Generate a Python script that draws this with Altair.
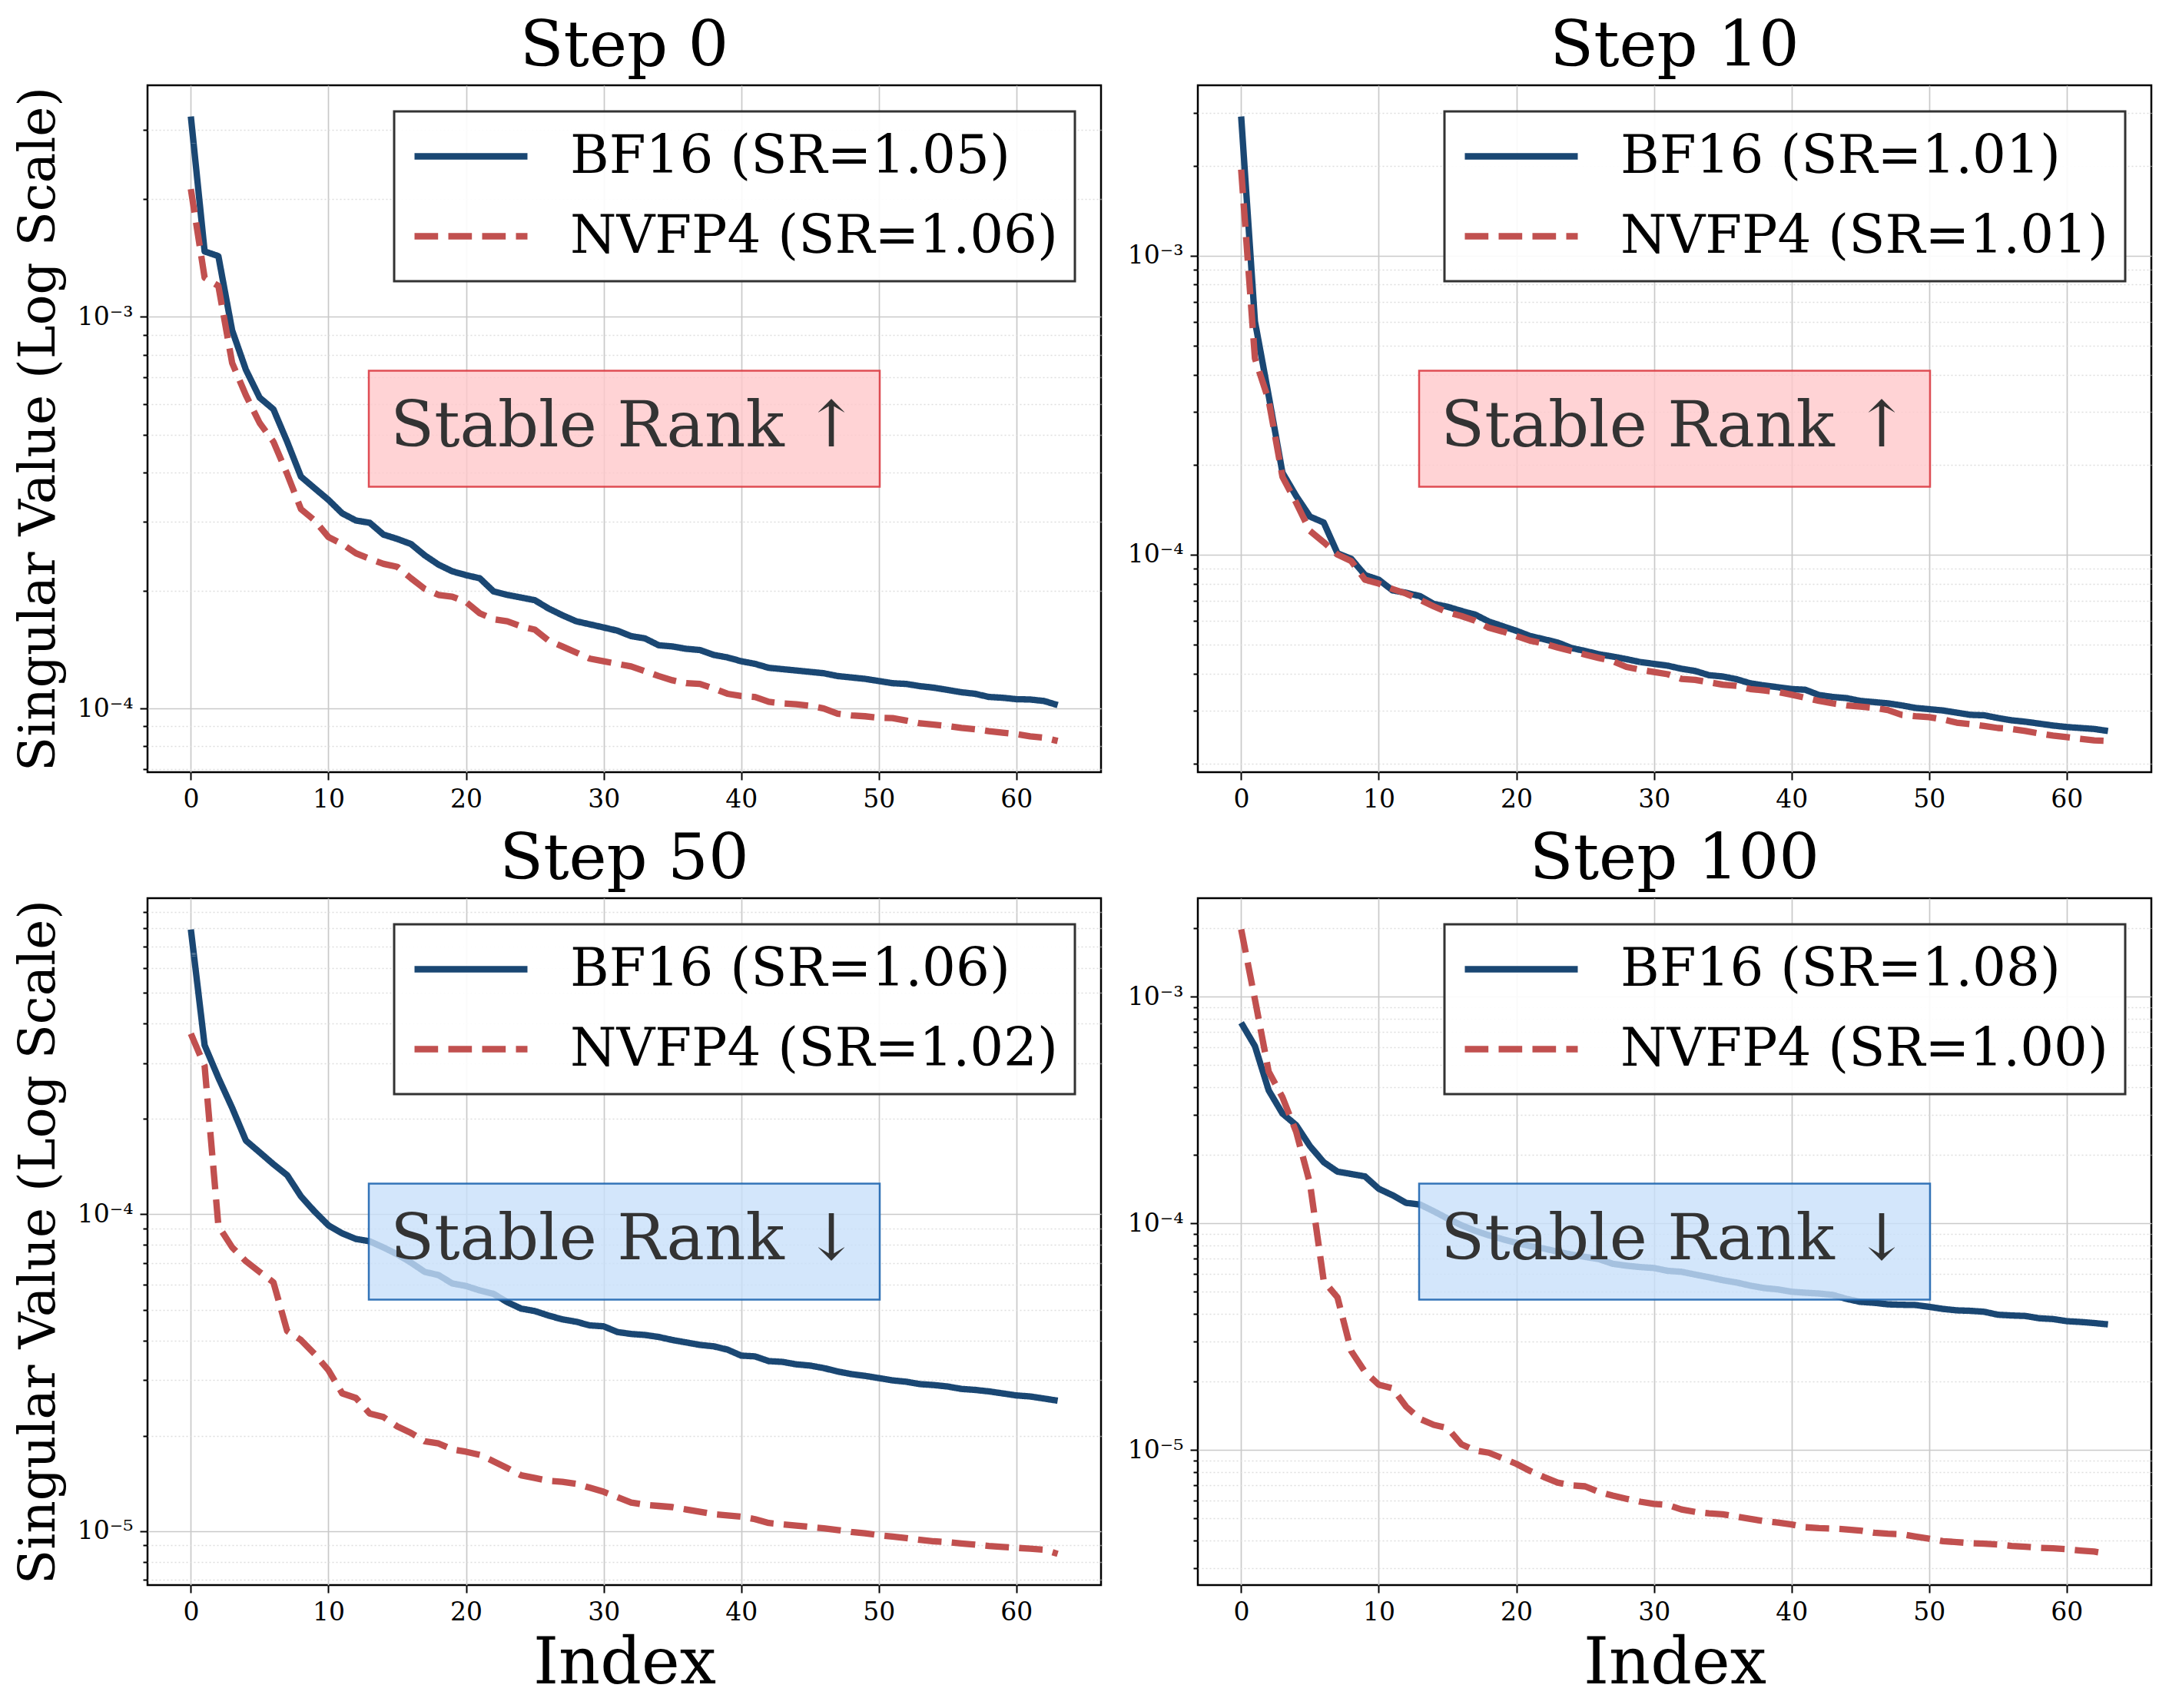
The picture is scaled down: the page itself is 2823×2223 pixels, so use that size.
import altair as alt
import pandas as pd
import numpy as np

STEPS = ["Step 0", "Step 10", "Step 50", "Step 100"]
BF16_SR = ["1.05", "1.01", "1.06", "1.08"]
NVFP4_SR = ["1.06", "1.01", "1.02", "1.00"]
ANNOT = ["Stable Rank \u2191", "Stable Rank \u2191", "Stable Rank \u2193", "Stable Rank \u2193"]
ANNOT_KIND = ["up", "up", "down", "down"]

S0_BF16 = [
    3.25e-3, 1.47e-3, 1.43e-3, 9.24e-4, 7.33e-4, 6.22e-4, 5.81e-4, 4.80e-4,
    3.91e-4, 3.65e-4, 3.41e-4, 3.15e-4, 3.02e-4, 2.98e-4, 2.78e-4, 2.71e-4,
    2.63e-4, 2.46e-4, 2.33e-4, 2.24e-4, 2.19e-4, 2.15e-4, 1.99e-4, 1.95e-4,
    1.92e-4, 1.89e-4, 1.80e-4, 1.73e-4, 1.67e-4, 1.64e-4, 1.61e-4, 1.58e-4,
    1.53e-4, 1.51e-4, 1.45e-4, 1.44e-4, 1.42e-4, 1.41e-4, 1.37e-4, 1.35e-4,
    1.32e-4, 1.30e-4, 1.27e-4, 1.26e-4, 1.25e-4, 1.24e-4, 1.23e-4, 1.21e-4,
    1.20e-4, 1.19e-4, 1.175e-4, 1.16e-4, 1.155e-4, 1.14e-4, 1.13e-4, 1.115e-4,
    1.10e-4, 1.09e-4, 1.07e-4, 1.065e-4, 1.056e-4, 1.054e-4, 1.045e-4, 1.02e-4,
]
S0_NVFP4 = [
    2.12e-3, 1.26e-3, 1.20e-3, 7.63e-4, 6.31e-4, 5.36e-4, 4.80e-4, 3.97e-4,
    3.23e-4, 3.02e-4, 2.74e-4, 2.63e-4, 2.49e-4, 2.41e-4, 2.34e-4, 2.30e-4,
    2.15e-4, 2.02e-4, 1.95e-4, 1.93e-4, 1.87e-4, 1.75e-4, 1.69e-4, 1.67e-4,
    1.62e-4, 1.59e-4, 1.49e-4, 1.44e-4, 1.39e-4, 1.34e-4, 1.32e-4, 1.30e-4,
    1.28e-4, 1.245e-4, 1.21e-4, 1.18e-4, 1.16e-4, 1.155e-4, 1.125e-4, 1.09e-4,
    1.076e-4, 1.07e-4, 1.04e-4, 1.03e-4, 1.025e-4, 1.016e-4, 1.0e-4, 9.7e-5,
    9.6e-5, 9.55e-5, 9.47e-5, 9.45e-5, 9.31e-5, 9.16e-5, 9.09e-5, 9.02e-5,
    8.92e-5, 8.85e-5, 8.75e-5, 8.67e-5, 8.6e-5, 8.49e-5, 8.42e-5, 8.26e-5,
]
S10_BF16 = [
    2.92e-3, 6.03e-4, 3.40e-4, 1.88e-4, 1.57e-4, 1.34e-4, 1.28e-4, 1.01e-4,
    9.68e-5, 8.54e-5, 8.24e-5, 7.59e-5, 7.45e-5, 7.26e-5, 6.84e-5, 6.69e-5,
    6.48e-5, 6.30e-5, 5.97e-5, 5.76e-5, 5.56e-5, 5.34e-5, 5.21e-5, 5.08e-5,
    4.87e-5, 4.76e-5, 4.64e-5, 4.56e-5, 4.47e-5, 4.37e-5, 4.31e-5, 4.25e-5,
    4.15e-5, 4.08e-5, 3.95e-5, 3.91e-5, 3.83e-5, 3.71e-5, 3.65e-5, 3.60e-5,
    3.55e-5, 3.53e-5, 3.39e-5, 3.34e-5, 3.31e-5, 3.24e-5, 3.21e-5, 3.18e-5,
    3.13e-5, 3.07e-5, 3.04e-5, 3.01e-5, 2.96e-5, 2.91e-5, 2.90e-5, 2.84e-5,
    2.79e-5, 2.76e-5, 2.72e-5, 2.68e-5, 2.65e-5, 2.63e-5, 2.61e-5, 2.57e-5,
]
S10_NVFP4 = [
    1.94e-3, 4.53e-4, 3.28e-4, 1.82e-4, 1.49e-4, 1.20e-4, 1.10e-4, 1.00e-4,
    9.51e-5, 8.24e-5, 8.0e-5, 7.67e-5, 7.40e-5, 7.06e-5, 6.71e-5, 6.41e-5,
    6.23e-5, 6.01e-5, 5.69e-5, 5.53e-5, 5.34e-5, 5.15e-5, 5.04e-5, 4.89e-5,
    4.76e-5, 4.63e-5, 4.51e-5, 4.40e-5, 4.21e-5, 4.12e-5, 4.05e-5, 3.98e-5,
    3.84e-5, 3.81e-5, 3.74e-5, 3.67e-5, 3.64e-5, 3.55e-5, 3.51e-5, 3.47e-5,
    3.40e-5, 3.32e-5, 3.24e-5, 3.18e-5, 3.13e-5, 3.10e-5, 3.07e-5, 3.02e-5,
    2.91e-5, 2.88e-5, 2.86e-5, 2.81e-5, 2.74e-5, 2.71e-5, 2.67e-5, 2.63e-5,
    2.61e-5, 2.57e-5, 2.52e-5, 2.48e-5, 2.45e-5, 2.42e-5, 2.39e-5, 2.38e-5,
]
S50_BF16 = [
    7.94e-4, 3.42e-4, 2.70e-4, 2.17e-4, 1.71e-4, 1.57e-4, 1.44e-4, 1.33e-4,
    1.14e-4, 1.02e-4, 9.23e-5, 8.71e-5, 8.36e-5, 8.22e-5, 7.86e-5, 7.48e-5,
    7.04e-5, 6.58e-5, 6.43e-5, 6.05e-5, 5.94e-5, 5.75e-5, 5.61e-5, 5.28e-5,
    5.04e-5, 4.95e-5, 4.79e-5, 4.66e-5, 4.58e-5, 4.46e-5, 4.43e-5, 4.25e-5,
    4.19e-5, 4.16e-5, 4.10e-5, 4.01e-5, 3.94e-5, 3.87e-5, 3.83e-5, 3.74e-5,
    3.58e-5, 3.56e-5, 3.44e-5, 3.42e-5, 3.36e-5, 3.33e-5, 3.27e-5, 3.19e-5,
    3.13e-5, 3.09e-5, 3.04e-5, 2.99e-5, 2.96e-5, 2.91e-5, 2.89e-5, 2.86e-5,
    2.81e-5, 2.79e-5, 2.76e-5, 2.72e-5, 2.68e-5, 2.66e-5, 2.62e-5, 2.58e-5,
]
S50_NVFP4 = [
    3.72e-4, 2.94e-4, 9.2e-5, 7.87e-5, 7.11e-5, 6.58e-5, 6.10e-5, 4.28e-5,
    4.01e-5, 3.62e-5, 3.22e-5, 2.72e-5, 2.63e-5, 2.35e-5, 2.29e-5, 2.14e-5,
    2.04e-5, 1.92e-5, 1.89e-5, 1.81e-5, 1.78e-5, 1.74e-5, 1.66e-5, 1.58e-5,
    1.50e-5, 1.47e-5, 1.44e-5, 1.43e-5, 1.41e-5, 1.37e-5, 1.33e-5, 1.28e-5,
    1.23e-5, 1.21e-5, 1.20e-5, 1.19e-5, 1.17e-5, 1.15e-5, 1.13e-5, 1.12e-5,
    1.11e-5, 1.09e-5, 1.06e-5, 1.05e-5, 1.04e-5, 1.03e-5, 1.02e-5, 1.007e-5,
    9.93e-6, 9.84e-6, 9.70e-6, 9.60e-6, 9.50e-6, 9.38e-6, 9.28e-6, 9.22e-6,
    9.13e-6, 9.06e-6, 8.97e-6, 8.91e-6, 8.85e-6, 8.79e-6, 8.73e-6, 8.47e-6,
]
S100_BF16 = [
    7.67e-4, 6.05e-4, 3.86e-4, 3.05e-4, 2.71e-4, 2.19e-4, 1.86e-4, 1.69e-4,
    1.65e-4, 1.61e-4, 1.42e-4, 1.33e-4, 1.23e-4, 1.21e-4, 1.13e-4, 1.05e-4,
    9.81e-5, 9.27e-5, 8.85e-5, 8.51e-5, 8.20e-5, 7.93e-5, 7.74e-5, 7.49e-5,
    7.28e-5, 7.11e-5, 6.95e-5, 6.63e-5, 6.50e-5, 6.41e-5, 6.35e-5, 6.17e-5,
    6.11e-5, 5.94e-5, 5.78e-5, 5.61e-5, 5.48e-5, 5.31e-5, 5.18e-5, 5.11e-5,
    4.99e-5, 4.94e-5, 4.90e-5, 4.83e-5, 4.64e-5, 4.50e-5, 4.46e-5, 4.39e-5,
    4.37e-5, 4.36e-5, 4.28e-5, 4.19e-5, 4.13e-5, 4.11e-5, 4.07e-5, 3.95e-5,
    3.92e-5, 3.90e-5, 3.81e-5, 3.78e-5, 3.70e-5, 3.67e-5, 3.63e-5, 3.58e-5,
]
S100_NVFP4 = [
    1.98e-3, 9.72e-4, 4.67e-4, 3.60e-4, 2.53e-4, 1.50e-4, 5.56e-5, 4.71e-5,
    2.73e-5, 2.21e-5, 1.94e-5, 1.87e-5, 1.55e-5, 1.37e-5, 1.29e-5, 1.25e-5,
    1.06e-5, 9.95e-6, 9.72e-6, 9.19e-6, 8.68e-6, 8.08e-6, 7.60e-6, 7.18e-6,
    6.98e-6, 6.91e-6, 6.53e-6, 6.29e-6, 6.09e-6, 5.91e-6, 5.78e-6, 5.72e-6,
    5.46e-6, 5.33e-6, 5.25e-6, 5.20e-6, 5.08e-6, 4.96e-6, 4.85e-6, 4.78e-6,
    4.69e-6, 4.56e-6, 4.52e-6, 4.50e-6, 4.46e-6, 4.41e-6, 4.31e-6, 4.27e-6,
    4.25e-6, 4.15e-6, 4.06e-6, 3.96e-6, 3.92e-6, 3.88e-6, 3.86e-6, 3.83e-6,
    3.77e-6, 3.74e-6, 3.70e-6, 3.68e-6, 3.65e-6, 3.60e-6, 3.56e-6, 3.48e-6,
]

BF16 = [S0_BF16, S10_BF16, S50_BF16, S100_BF16]
NVFP4 = [S0_NVFP4, S10_NVFP4, S50_NVFP4, S100_NVFP4]
X_TICKS = [0, 10, 20, 30, 40, 50, 60]

# ---- style ----
W, H = 1241, 894
FONT = "DejaVu Serif"
BLUE = "#1a4773"
RED = "#c1504f"
BOX_STYLE = {
    "up": dict(fill="#ffc8cb", stroke="#dc3c44"),
    "down": dict(fill="#c8e0fa", stroke="#1f66b0"),
}

LOGV = "log(datum.value)/LN10"
MAJ = f"abs({LOGV} - round({LOGV})) < 0.001"
SUP = {-2: "\u207b\u00b2", -3: "\u207b\u00b3", -4: "\u207b\u2074", -5: "\u207b\u2075",
       -6: "\u207b\u2076", -7: "\u207b\u2077"}
label_expr = "''"
for e, s in SUP.items():
    label_expr = f"round({LOGV}) == {e} ? '10{s}' : ({label_expr})"
label_expr = f"({MAJ}) ? ({label_expr}) : ''"


def panel(i):
    bf, nv = BF16[i], NVFP4[i]
    lab_bf = f"BF16 (SR={BF16_SR[i]})"
    lab_nv = f"NVFP4 (SR={NVFP4_SR[i]})"
    n = len(bf)
    df = pd.DataFrame({
        "Index": list(range(n)) + list(range(len(nv))),
        "Value": bf + nv,
        "Series": [lab_bf] * n + [lab_nv] * len(nv),
    })
    lg = np.log10(df["Value"].to_numpy())
    lo, hi = lg.min(), lg.max()
    m = 0.05 * (hi - lo)
    dom = [10 ** (lo - m), 10 ** (hi + m)]
    yticks = [k * 10.0 ** e for e in range(-8, 0) for k in range(1, 10)
              if dom[0] <= k * 10.0 ** e <= dom[1]]
    xmax = n - 1
    xdom = [-0.05 * xmax, xmax * 1.05]
    left = i % 2 == 0
    bottom = i >= 2

    yaxis = alt.Axis(
        values=yticks,
        labelExpr=label_expr,
        title="Singular Value (Log Scale)" if left else None,
        titleFontSize=66,
        titlePadding=13,
        minExtent=95,
        maxExtent=95,
        labelFontSize=33,
        labelPadding=9,
        tickSize={"condition": {"test": MAJ, "value": 10}, "value": 6},
        gridDash={"condition": {"test": MAJ, "value": []}, "value": [2, 3]},
        gridColor={"condition": {"test": MAJ, "value": "#c9c9c9"}, "value": "#dedede"},
        gridWidth={"condition": {"test": MAJ, "value": 1.7}, "value": 1.3},
    )
    xaxis = alt.Axis(
        values=X_TICKS,
        title="Index" if bottom else None,
        titleFontSize=84,
        titlePadding=9,
        labelFontSize=33,
        labelPadding=9,
        tickSize=10,
        gridColor="#c9c9c9",
        gridWidth=1.7,
        labelFlush=False,
    )
    legend = alt.Legend(
        title=None, orient="top-right", offset=34,
        labelFont=FONT, labelFontSize=69, labelColor="black", labelLimit=3000,
        symbolType="stroke", symbolSize=21609, symbolStrokeWidth=8.3,
        labelOffset=51, padding=22, rowPadding=31, clipHeight=73,
        fillColor="rgba(255,255,255,0.9)", strokeColor="#333333",
    )
    lines = alt.Chart(df).mark_line(strokeWidth=8.3, strokeJoin="round", clip=True).encode(
        x=alt.X("Index:Q", scale=alt.Scale(domain=xdom, nice=False, zero=False), axis=xaxis),
        y=alt.Y("Value:Q", scale=alt.Scale(type="log", domain=dom, nice=False), axis=yaxis),
        color=alt.Color("Series:N", scale=alt.Scale(domain=[lab_bf, lab_nv], range=[BLUE, RED]),
                        legend=legend),
        strokeDash=alt.StrokeDash("Series:N",
                                  scale=alt.Scale(domain=[lab_bf, lab_nv], range=[[1, 0], [30.7, 13.3]]),
                                  legend=legend),
        order=alt.Order("Index:Q"),
    )
    ann = pd.DataFrame({"text": [ANNOT[i]]})
    st = BOX_STYLE[ANNOT_KIND[i]]
    bw, bh = 332.5, 75.5
    box = alt.Chart(ann).mark_rect(
        fill=st["fill"], fillOpacity=0.8, stroke=st["stroke"], strokeWidth=2.5, strokeOpacity=0.9
    ).encode(
        x=alt.value(W / 2 - bw), x2=alt.value(W / 2 + bw),
        y=alt.value(H / 2 - bh), y2=alt.value(H / 2 + bh),
    )
    txt = alt.Chart(ann).mark_text(
        font=FONT, fontSize=83, color="#333333", align="center", baseline="middle"
    ).encode(x=alt.value(W / 2), y=alt.value(H / 2 - 2), text="text:N")

    return alt.layer(lines, box, txt).properties(
        width=W, height=H,
        title=alt.TitleParams(STEPS[i], fontSize=83, font=FONT, fontWeight="normal",
                              offset=8, anchor="middle", color="black"),
    )


chart = alt.concat(
    *[panel(i) for i in range(4)],
    columns=2,
    spacing={"row": 164, "column": 126},
    bounds="flush",
).resolve_scale(
    x="independent", y="independent", color="independent", strokeDash="independent"
).resolve_legend(
    color="independent", strokeDash="independent"
).resolve_axis(
    x="independent", y="independent"
).configure(
    font=FONT, background="white",
    padding={"left": 7, "top": 10, "right": 12, "bottom": 10},
).configure_view(
    stroke="black", strokeWidth=2.5
).configure_axis(
    labelFont=FONT, titleFont=FONT, labelColor="black", titleColor="black",
    titleFontWeight="normal", tickColor="black", tickWidth=2, domain=False, grid=True,
).configure_legend(
    strokeWidth=3
)

chart.save("out.html", embed_options={"renderer": "svg", "actions": False})
